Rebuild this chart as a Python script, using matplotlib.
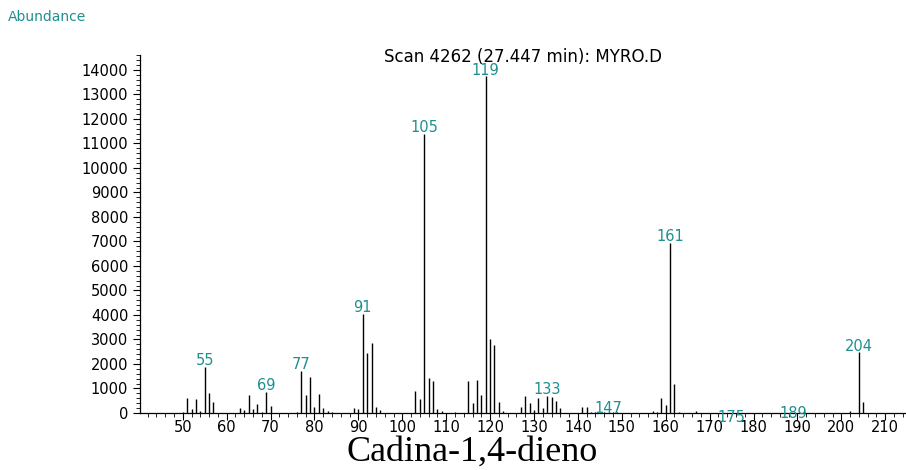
import matplotlib
matplotlib.use("Agg")
import matplotlib.pyplot as plt
from matplotlib.ticker import MultipleLocator

# ----- spectrum data (m/z, abundance) -----
mz = [50, 51, 52, 53, 54, 55, 56, 57, 63, 64, 65, 66, 67, 68, 69, 70,
      76, 77, 78, 79, 80, 81, 82, 83, 84, 89, 90, 91, 92, 93, 94, 95,
      103, 104, 105, 106, 107, 108, 109, 112, 115, 116, 117, 118, 119, 120,
      121, 122, 123, 127, 128, 129, 130, 131, 132, 133, 134, 135, 136,
      141, 142, 143, 144, 145, 146, 147, 148, 149, 157, 158, 159, 160, 161,
      162, 163, 167, 175, 189, 202, 204, 205]
abund = [50, 620, 150, 560, 100, 1880, 800, 430, 210, 120, 720, 160, 350, 60, 870, 280,
         60, 1720, 740, 1480, 260, 790, 210, 90, 30, 200, 160, 4050, 2450, 2850, 230, 110,
         900, 580, 11400, 1420, 1290, 180, 80, 40, 1290, 420, 1330, 720, 13750, 3000,
         2780, 440, 70, 260, 680, 400, 110, 600, 210, 700, 640, 470, 200,
         250, 250, 40, 30, 40, 30, 50, 30, 30, 100, 60, 620, 340, 6950,
         1200, 60, 70, 10, 10, 100, 2480, 440]
labeled = [55, 69, 77, 91, 105, 119, 133, 147, 161, 175, 189, 204]

title = "Scan 4262 (27.447 min): MYRO.D"
ylabel = "Abundance"
caption = "Cadina-1,4-dieno"

TEAL = "#1f8f8f"
# vertical nudge (points) for labels that sit on the axis
label_dy = {147: -2, 175: -8, 189: -5}

plt.rcParams["font.family"] = ["DejaVu Sans"]

fig = plt.figure(figsize=(9.06, 4.70), dpi=100)
ax = fig.add_axes([140/906, 1-413/470, 765/906, 358/470])

ax.vlines(mz, 0, abund, color="black", lw=1.0)

ab = dict(zip(mz, abund))
for m in labeled:
    ax.annotate(str(m), (m, ab[m]), xytext=(0, -1 + label_dy.get(m, 0)),
                textcoords="offset points", ha="center", va="bottom",
                color=TEAL, fontsize=10.5, zorder=5)

ax.set_xlim(40.26, 214.5)
ax.set_ylim(0, 14612)
ax.xaxis.set_major_locator(MultipleLocator(10))
ax.xaxis.set_minor_locator(MultipleLocator(2))
ax.yaxis.set_major_locator(MultipleLocator(1000))
ax.yaxis.set_minor_locator(MultipleLocator(200))
ax.set_xticks(range(50, 211, 10))
ax.tick_params(axis="both", which="major", direction="out", length=5, width=0.8, labelsize=10.5)
ax.tick_params(axis="both", which="minor", direction="out", length=3, width=0.6)
ax.tick_params(axis="x", pad=0)
for s in ["top", "right"]:
    ax.spines[s].set_visible(False)
for s in ["left", "bottom"]:
    ax.spines[s].set_linewidth(0.9)

fig.text(523/906, 1-57/470, title, ha="center", va="center", fontsize=12)
fig.text(8/906, 1-17/470, ylabel, ha="left", va="center", fontsize=10, color=TEAL)
fig.text(472/906, 1-452/470, caption, ha="center", va="center",
         fontsize=26, family="Liberation Serif")

plt.savefig("out.png", dpi=100)
